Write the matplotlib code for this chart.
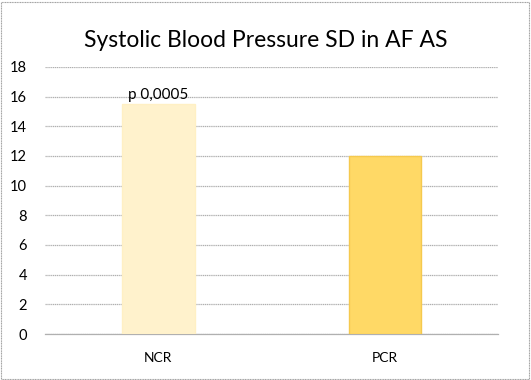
import matplotlib
matplotlib.use("Agg")
from matplotlib import pyplot as plt
from matplotlib.patches import Rectangle

groups = ['NCR', 'PCR']
sd_values = [15.5, 12.0]
bar_colors = ['#FFF2CC', '#FFD966']
edge_colors = ['#FFF0C4', '#F5C94E']
yticks = [0, 2, 4, 6, 8, 10, 12, 14, 16, 18]

plt.rcParams['font.family'] = ['Lato', 'DejaVu Sans']

fig = plt.figure(figsize=(5.31, 3.8), dpi=100)
ax = fig.add_axes([0.085, 0.121, 0.853, 0.703])

x = range(len(groups))
ax.bar(x, sd_values, width=0.32, color=bar_colors, edgecolor=edge_colors, linewidth=1, zorder=3)
ax.text(0, sd_values[0] + 0.15, 'p 0,0005', ha='center', va='bottom', fontsize=11, zorder=4)

ax.set_xlim(-0.5, 1.5)
ax.set_ylim(0, 18)
ax.set_yticks(yticks)
ax.set_xticks(list(x))
ax.set_xticklabels(groups, fontsize=10)
ax.tick_params(axis='y', labelsize=10.5, length=0, pad=13)
ax.tick_params(axis='x', length=0, pad=13)
ax.yaxis.grid(True, color='#B0B0B0', linestyle=(0, (1, 0.5)), linewidth=0.9, zorder=0)
for s in ['top', 'right', 'left']:
    ax.spines[s].set_visible(False)
ax.spines['bottom'].set_color('#B0B0B0')
ax.spines['bottom'].set_linewidth(0.9)

fig.text(0.5, 0.893, 'Systolic Blood Pressure SD in AF AS', ha='center', va='center', fontsize=16.5)

# thin gray frame round the whole chart
fig.patches.append(Rectangle((0.002, 0.003), 0.994, 0.992, transform=fig.transFigure,
                             fill=False, edgecolor='#A0A0A0', linewidth=0.8, linestyle=(0, (1, 0.5))))

fig.savefig('out.png', dpi=100)
